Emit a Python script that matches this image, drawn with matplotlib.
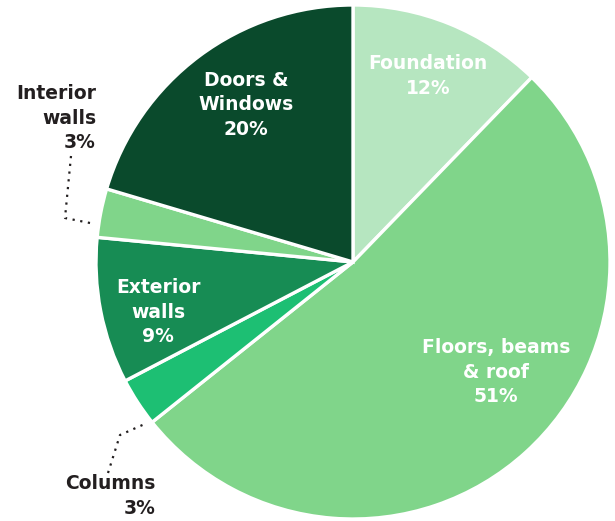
import matplotlib.pyplot as plt

# share of embodied carbon by building element
parts = ["Foundation", "Floors, beams\n& roof", "Columns", "Exterior\nwalls",
         "Interior\nwalls", "Doors &\nWindows"]
shares = [12, 51, 3, 9, 3, 20]
colors = ["#b6e6c0", "#80d58a", "#1dbf73", "#178c54", "#80d58a", "#0a4a2c"]

W, H = 615, 521
fig = plt.figure(figsize=(W / 100, H / 100), dpi=100)
ax = fig.add_axes([0, 0, 1, 1])

# inverted y axis flips the sweep, so counterclock=True runs clockwise on screen
ax.pie(shares, colors=colors, startangle=-90, counterclock=True,
       center=(353, 262), radius=257, frame=True,
       wedgeprops=dict(edgecolor="white", linewidth=2.4))
ax.set_xlim(0, W)
ax.set_ylim(H, 0)
ax.set_aspect("equal")
ax.axis("off")

font = dict(family=["DejaVu Sans"], fontweight="bold", fontsize=13.5,
            linespacing=1.38)
dark = "#231f20"

def lbl(i):
    return f"{parts[i]}\n{shares[i]}%"

# labels inside the slices
ax.text(428, 76, lbl(0), ha="center", va="center", color="white", **font)
ax.text(496, 372, lbl(1), ha="center", va="center", color="white", **font)
ax.text(158, 312, lbl(3), ha="center", va="center", color="white", **font)
ax.text(246, 105, lbl(5), ha="center", va="center", color="white", **font)

# small slices get outside labels with dotted leaders
ax.text(96, 118, lbl(4), ha="right", va="center", color=dark, **font)
ax.plot([71, 65, 95], [156, 218, 224], ls=(0, (1, 2.5)), color=dark, lw=1.6)
ax.text(156, 496, lbl(2), ha="right", va="center", color=dark, **font)
ax.plot([108, 120, 147], [473, 435, 423], ls=(0, (1, 2.5)), color=dark, lw=1.6)

fig.savefig("out.png", dpi=100)
